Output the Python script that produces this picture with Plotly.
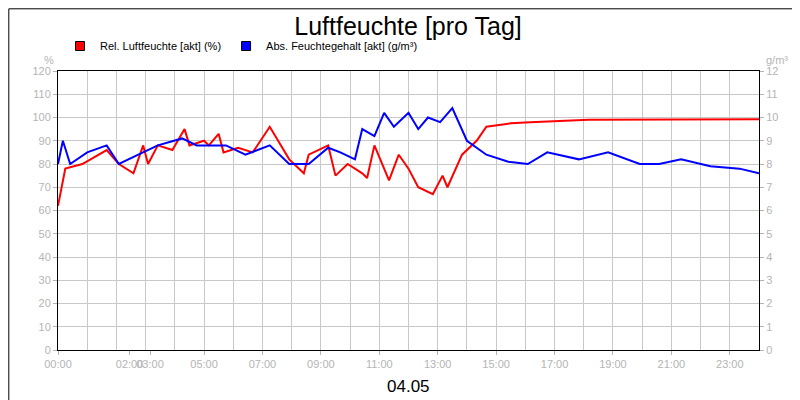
import plotly.graph_objects as go

# relative humidity (%)
rel_t = ["00:00", "00:15", "00:50", "01:40", "02:05", "02:35", "02:55", "03:05", "03:25", "03:55",
         "04:20", "04:30", "05:00", "05:10", "05:30", "05:40", "06:10", "06:40", "07:15", "07:55",
         "08:25", "08:35", "09:15", "09:30", "09:55", "10:25", "10:35", "10:50", "11:20", "11:40",
         "12:00", "12:20", "12:50", "13:10", "13:20", "13:50", "14:20", "14:40", "15:30", "16:10",
         "18:10", "20:00", "22:00", "24:00"]
rel_v = [62, 78, 80, 86, 80, 76, 88, 80, 88, 86,
         95, 88, 90, 88, 93, 85, 87, 85, 96, 82,
         76, 84, 88, 75, 80, 76, 74, 88, 73, 84,
         78, 70, 67, 75, 70, 84, 90, 96, 97.5, 98,
         99, 99.1, 99.2, 99.2]

# absolute humidity (g/m3)
abs_t = ["00:00", "00:10", "00:25", "01:00", "01:40", "02:05", "02:45", "03:25", "04:15", "04:45",
         "05:45", "06:25", "07:15", "07:55", "08:35", "09:15", "09:40", "10:10", "10:25", "10:50",
         "11:10", "11:30", "12:00", "12:20", "12:40", "13:05", "13:30", "14:00", "14:40", "15:25",
         "16:05", "16:45", "17:50", "18:50", "19:55", "20:35", "21:20", "22:20", "23:20", "24:00"]
abs_v = [8.0, 9.0, 8.0, 8.5, 8.8, 8.0, 8.4, 8.8, 9.1, 8.8,
         8.8, 8.4, 8.8, 8.0, 8.0, 8.7, 8.5, 8.2, 9.5, 9.2,
         10.2, 9.6, 10.2, 9.5, 10.0, 9.8, 10.4, 9.0, 8.4, 8.1,
         8.0, 8.5, 8.2, 8.5, 8.0, 8.0, 8.2, 7.9, 7.8, 7.6]

tick_text = ["00:00", "02:00", "03:00", "05:00", "07:00", "09:00", "11:00", "13:00",
             "15:00", "17:00", "19:00", "21:00", "23:00"]
tick_pos = [0, 2.45, 3.15, 5, 7, 9, 11, 13, 15, 17, 19, 21, 23]


def hours(ts):
    return [int(t[:2]) + int(t[3:]) / 60 for t in ts]


fig = go.Figure()
fig.add_trace(go.Scatter(x=hours(rel_t), y=rel_v, mode="lines", line=dict(color="#ff0000", width=2),
                         showlegend=False))
fig.add_trace(go.Scatter(x=hours(abs_t), y=abs_v, mode="lines", line=dict(color="#0000ff", width=2),
                         yaxis="y2", showlegend=False))
# legend entries with square swatches
fig.add_trace(go.Scatter(x=[None], y=[None], mode="markers", name="Rel. Luftfeuchte [akt] (%)",
                         marker=dict(symbol="square", size=9, color="#ff0000", line=dict(color="black", width=1))))
fig.add_trace(go.Scatter(x=[None], y=[None], mode="markers", name="Abs. Feuchtegehalt [akt] (g/m³)",
                         marker=dict(symbol="square", size=9, color="#0000ff", line=dict(color="black", width=1))))

grey = "#b4b4b4"
fig.update_layout(
    width=800, height=400, margin=dict(l=0, r=0, t=0, b=0, autoexpand=False),
    paper_bgcolor="white", plot_bgcolor="white",
    font=dict(family="Liberation Sans, Arial", size=11, color=grey),
    title=dict(text="Luftfeuchte [pro Tag]", x=0.5, y=0.955, xanchor="center", yanchor="middle",
               font=dict(size=25, color="black")),
    showlegend=True,
    legend=dict(orientation="h", x=0.065, y=0.905, xanchor="left", yanchor="middle",
                font=dict(size=11, color="black"), itemwidth=30, bgcolor="rgba(0,0,0,0)",
                tracegroupgap=0),
    xaxis=dict(domain=[50 / 800, 751 / 800], range=[0, 24], tickvals=tick_pos, ticktext=tick_text,
               tickangle=0, showgrid=False, ticks="outside", ticklen=4, tickcolor=grey, zeroline=False,
               showline=True, linecolor="black", mirror=True, linewidth=1, anchor="y",
               minor=dict(dtick=1, showgrid=True, gridcolor="#c8c8c8", tick0=0)),
    yaxis=dict(domain=[58 / 400, 337 / 400], range=[0, 120], dtick=10, gridcolor="#c8c8c8",
               ticks="outside", ticklen=4, tickcolor=grey, zeroline=False, showline=True,
               linecolor="black", linewidth=1),
    yaxis2=dict(range=[0, 12], dtick=1, overlaying="y", side="right", showgrid=False,
                ticks="outside", ticklen=4, tickcolor=grey, zeroline=False,
                showline=True, linecolor="black", linewidth=1, anchor="x"),
    shapes=[dict(type="rect", xref="paper", yref="paper", x0=0.001, x1=0.999,
                 y0=0.002, y1=0.998, line=dict(color="black", width=1))],
    annotations=[
        dict(text="%", xref="paper", yref="paper", x=0.06, y=0.85, showarrow=False,
             xanchor="right", yanchor="bottom", font=dict(size=11, color=grey)),
        dict(text="g/m³", xref="paper", yref="paper", x=0.945, y=0.85, showarrow=False,
             xanchor="left", yanchor="bottom", font=dict(size=11, color=grey)),
        dict(text="04.05", xref="paper", yref="paper", x=0.5, y=0.055, showarrow=False,
             yanchor="middle", font=dict(size=17, color="black")),
    ],
)

fig.write_html("out.html")
